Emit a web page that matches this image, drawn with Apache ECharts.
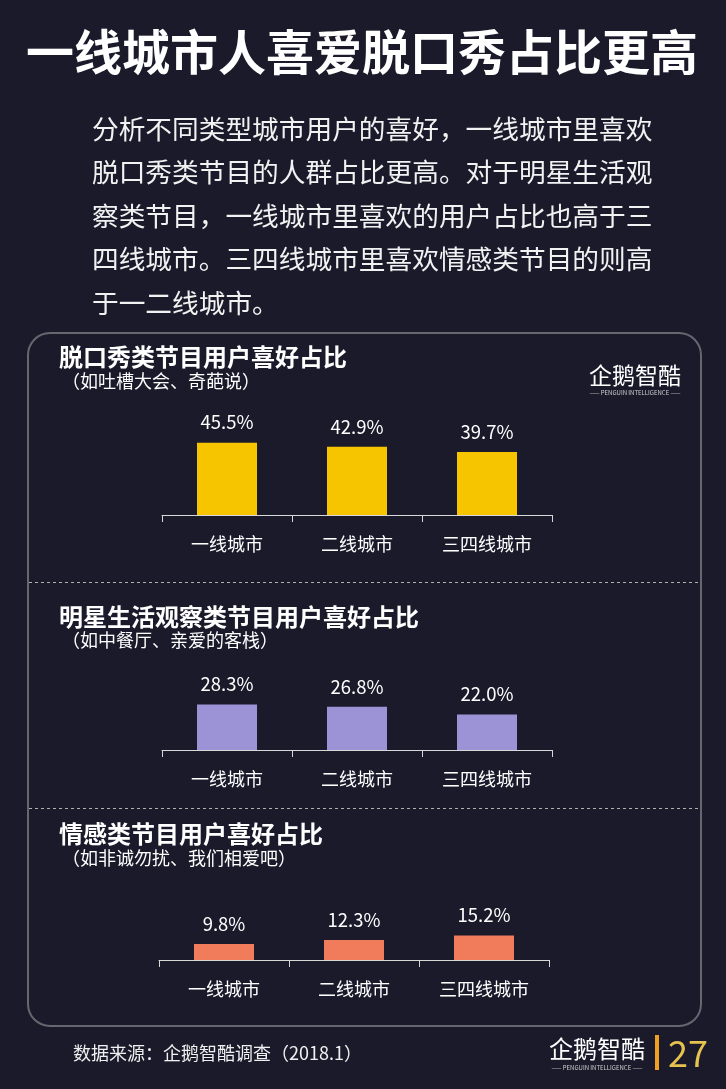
<!DOCTYPE html>
<html>
<head>
<meta charset="utf-8">
<script src="https://cdn.jsdelivr.net/npm/echarts@6/dist/echarts.min.js"></script>
<style>
  html, body { margin: 0; padding: 0; background: #1b1a2b; }
  #main { width: 726px; height: 1089px; }
</style>
</head>
<body>
<div id="main"></div>
<script>
// 数据
var cities = ['一线城市', '二线城市', '三四线城市']
var talkShow = [45.5, 42.9, 39.7]
var celebLife = [28.3, 26.8, 22.0]
var emotion = [9.8, 12.3, 15.2]

var FONT = '"Noto Sans CJK SC", "Noto Sans", sans-serif'
var barColors = ['#f6c500', '#9b93d5', '#f07c5b']

var paragraph = [
  '分析不同类型城市用户的喜好，一线城市里喜欢',
  '脱口秀类节目的人群占比更高。对于明星生活观',
  '察类节目，一线城市里喜欢的用户占比也高于三',
  '四线城市。三四线城市里喜欢情感类节目的则高',
  '于一二线城市。'
]

function txt(x, y, text, size, opts) {
  opts = opts || {}
  return {
    type: 'text',
    x: x,
    y: y,
    style: {
      text: text,
      fill: opts.fill || '#ffffff',
      fontSize: size,
      fontFamily: FONT,
      fontWeight: opts.bold ? 'bold' : 'normal',
      align: opts.align || 'left',
      verticalAlign: opts.va || 'middle',
      lineHeight: opts.lineHeight
    },
    z: 10
  }
}

function makeAxis(gridIndex) {
  return {
    type: 'category',
    gridIndex: gridIndex,
    data: cities,
    axisLine: { lineStyle: { color: '#d8d8d8', width: 1 } },
    axisTick: { show: true, length: 7, lineStyle: { color: '#d8d8d8' } },
    axisLabel: { color: '#ffffff', fontSize: 18, fontFamily: FONT, margin: 20 }
  }
}

function makeY(gridIndex, max) {
  return {
    type: 'value',
    gridIndex: gridIndex,
    min: 0,
    max: max,
    show: false,
    splitLine: { show: false }
  }
}

function makeBar(idx, data) {
  return {
    type: 'bar',
    xAxisIndex: idx,
    yAxisIndex: idx,
    data: data,
    barWidth: 60,
    itemStyle: { color: barColors[idx] },
    label: {
      show: true,
      position: 'top',
      distance: 11,
      color: '#ffffff',
      fontSize: 18.5,
      fontFamily: FONT,
      formatter: function (p) { return p.value.toFixed(1) + '%' }
    }
  }
}

var chart = echarts.init(document.getElementById('main'))
chart.setOption({
  backgroundColor: '#1b1a2b',
  animation: false,
  grid: [
    { left: 162, width: 390, top: 515 - 95.4, height: 95.4 },
    { left: 162, width: 390, top: 750 - 64.4, height: 64.4 },
    { left: 159, width: 390, top: 960 - 32.4, height: 32.4 }
  ],
  xAxis: [makeAxis(0), makeAxis(1), makeAxis(2)],
  yAxis: [makeY(0, 60), makeY(1, 40), makeY(2, 20)],
  series: [makeBar(0, talkShow), makeBar(1, celebLife), makeBar(2, emotion)],
  graphic: [
    // 标题
    txt(362, 52, '一线城市人喜爱脱口秀占比更高', 48, { bold: true, align: 'center' }),
    // 说明文字
    txt(92, 107, paragraph.join('\n'), 26.7, { va: 'top', lineHeight: 43.5, fill: '#f2f2f2' }),
    // 面板
    {
      type: 'rect',
      shape: { x: 28, y: 333, width: 673, height: 693, r: 22 },
      style: { fill: 'none', stroke: '#66666f', lineWidth: 2 }
    },
    {
      type: 'line',
      shape: { x1: 29, y1: 582.5, x2: 700, y2: 582.5 },
      style: { stroke: '#b0b0b0', lineWidth: 1, lineDash: [3, 3] }
    },
    {
      type: 'line',
      shape: { x1: 29, y1: 808.5, x2: 700, y2: 808.5 },
      style: { stroke: '#b0b0b0', lineWidth: 1, lineDash: [3, 3] }
    },
    // 小标题
    txt(59, 357, '脱口秀类节目用户喜好占比', 24, { bold: true }),
    txt(62, 381, '（如吐槽大会、奇葩说）', 18),
    txt(59, 617, '明星生活观察类节目用户喜好占比', 24, { bold: true }),
    txt(62, 640, '（如中餐厅、亲爱的客栈）', 18),
    txt(59, 834, '情感类节目用户喜好占比', 24, { bold: true }),
    txt(62, 858, '（如非诚勿扰、我们相爱吧）', 18),
    // 水印
    txt(635, 375, '企鹅智酷', 23, { align: 'center' }),
    txt(635, 393, '—— PENGUIN INTELLIGENCE ——', 6, { align: 'center', fill: '#cfcfcf' }),
    // 页脚
    txt(73, 1053, '数据来源：企鹅智酷调查（2018.1）', 18, { fill: '#f0f0f0' }),
    txt(597, 1049, '企鹅智酷', 24, { align: 'center' }),
    txt(597, 1068, '—— PENGUIN INTELLIGENCE ——', 6, { align: 'center', fill: '#cfcfcf' }),
    {
      type: 'rect',
      shape: { x: 655, y: 1035, width: 4, height: 35 },
      style: { fill: '#f0a020' }
    },
    txt(668, 1053, '27', 36, { fill: '#e6c24e' })
  ]
})
</script>
</body>
</html>
